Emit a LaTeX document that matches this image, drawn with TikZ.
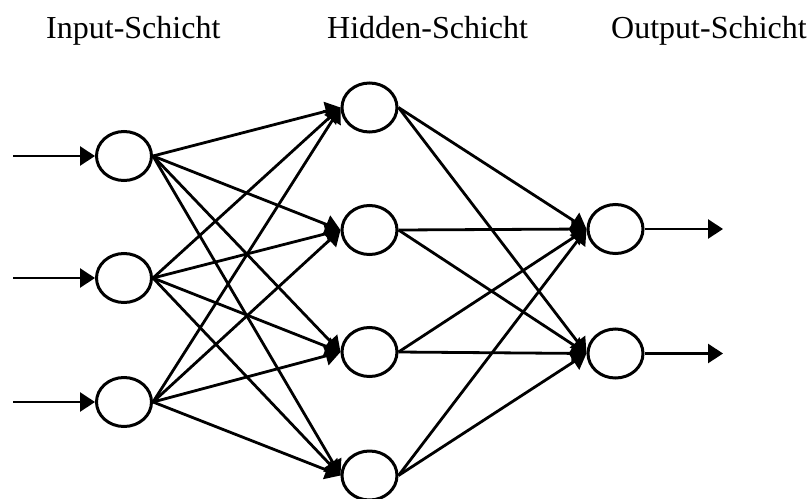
\documentclass[tikz,border=0pt]{standalone}
\usepackage{fontspec}
\setmainfont{Liberation Serif}
\usetikzlibrary{arrows.meta,shapes.geometric}
\begin{document}
\begin{tikzpicture}[x=1pt,y=-1pt,
  neuron/.style={draw,shape=ellipse,minimum width=55pt,minimum height=49pt,inner sep=0pt,line width=3pt},
  conn/.style={line width=2.8pt,-{Triangle[length=15pt,width=19pt]}},
  lbl/.style={font=\fontsize{32}{36}\selectfont,anchor=base west,inner sep=0pt}]
\useasboundingbox (0,0) rectangle (811,498);
% labels
\node[lbl] (L1) at (46,38) {Input-Schicht};
\node[lbl] (L2) at (327,38) {Hidden-Schicht};
\node[lbl] (L3) at (611,38) {Output-Schicht};
% neurons
\node[neuron] (i1) at (124,156) {};
\node[neuron] (i2) at (124,278) {};
\node[neuron] (i3) at (124,402) {};
\node[neuron] (h1) at (369.5,107.5) {};
\node[neuron] (h2) at (369.5,230) {};
\node[neuron] (h3) at (369.5,352) {};
\node[neuron] (h4) at (369.5,475.5) {};
\node[neuron] (o1) at (615.5,229) {};
\node[neuron] (o2) at (615.5,353.5) {};
% inputs
\coordinate (s1) at (13,156);
\coordinate (s2) at (13,278);
\coordinate (s3) at (13,402);
\foreach \k in {1,2,3} \draw[conn] (s\k) -- (i\k.west);
% input -> hidden
\foreach \a in {1,2,3} \foreach \b in {1,2,3,4} \draw[conn] (i\a.east) -- (h\b.west);
% hidden -> output
\foreach \a in {1,2,3,4} \foreach \b in {1,2} \draw[conn] (h\a.east) -- (o\b.west);
% outputs
\coordinate (t1) at (723,229);
\coordinate (t2) at (723,353.5);
\draw[conn] (o1.east) -- (t1);
\draw[conn] (o2.east) -- (t2);
\end{tikzpicture}
\end{document}
